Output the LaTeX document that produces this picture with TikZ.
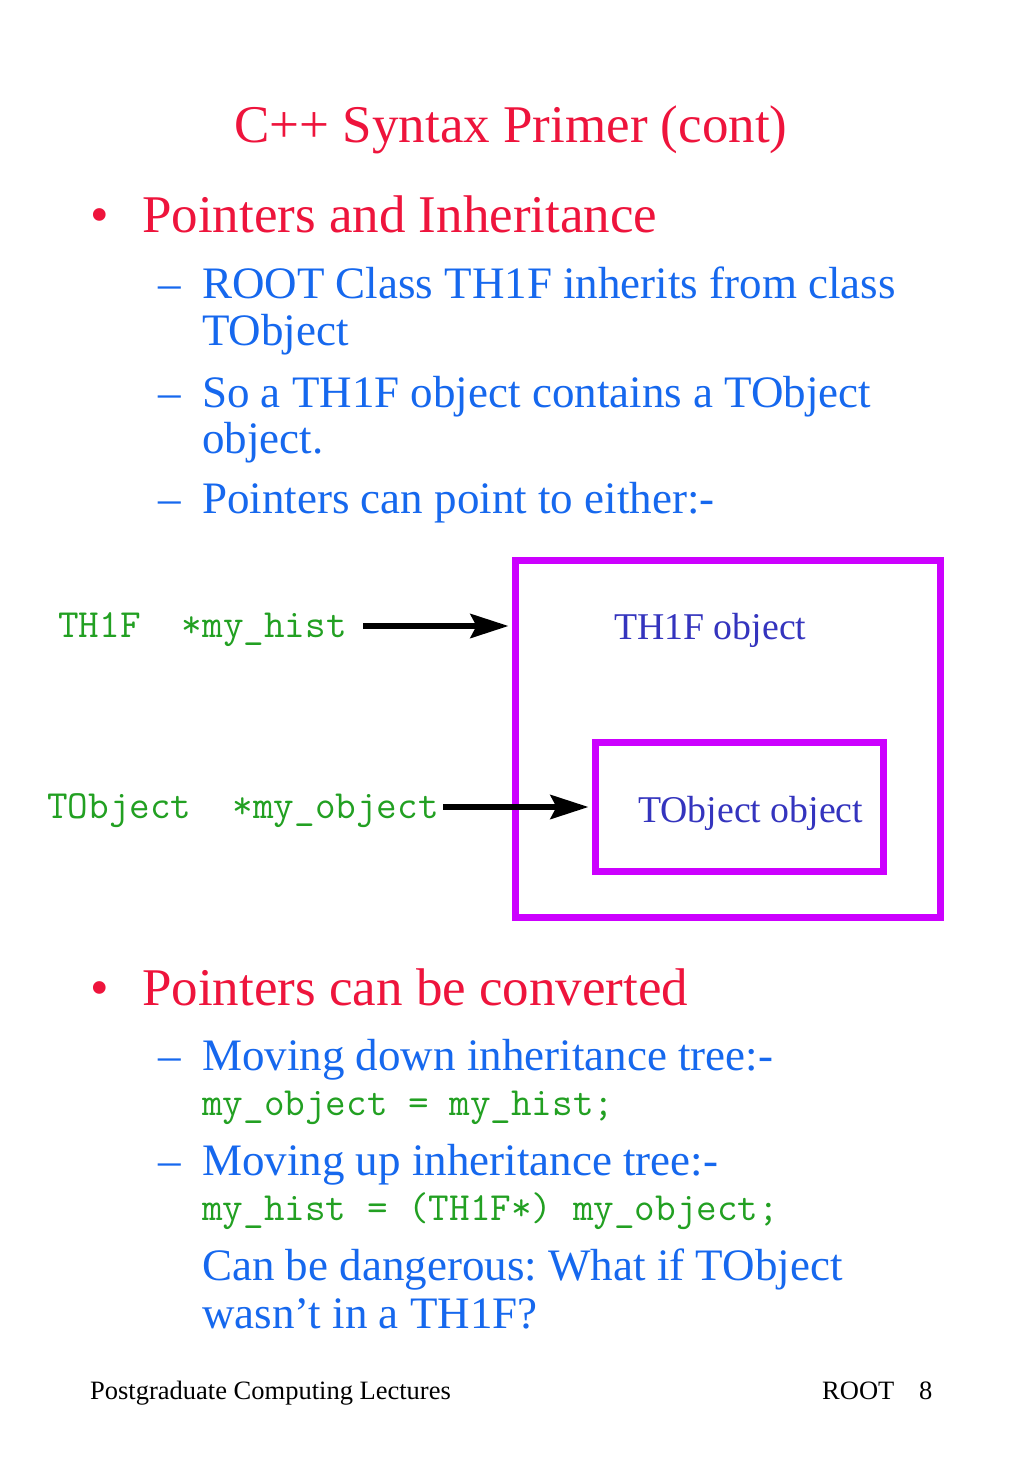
\documentclass[tikz,border=0pt]{standalone}
\usepackage{fontspec}
\setmainfont{Liberation Serif}
\usetikzlibrary{arrows.meta}
\frenchspacing
\definecolor{slidered}{RGB}{238,20,60}
\definecolor{slideblue}{RGB}{22,104,238}
\definecolor{codegreen}{RGB}{34,160,34}
\definecolor{boxtext}{RGB}{52,52,190}
\definecolor{boxline}{RGB}{204,0,255}
\tikzstyle{txt} = [inner sep=0pt, anchor=base west]
\tikzstyle{head} = [txt, text=slidered, font=\fontsize{53}{53}\selectfont]
\tikzstyle{sub} = [txt, text=slideblue, font=\fontsize{45}{45}\selectfont]
\tikzstyle{code} = [txt, text=codegreen, font=\ttfamily\fontsize{40}{40}\selectfont]
\tikzstyle{objlabel} = [txt, text=boxtext, font=\fontsize{37.8}{37.8}\selectfont]
\tikzstyle{foot} = [txt, font=\fontsize{26.5}{26.5}\selectfont]
\tikzstyle{objbox} = [draw=boxline, line width=7pt, inner sep=0pt]
\tikzstyle{ptr} = [line width=6pt, shorten >=3.5pt, -{Stealth[length=38pt, width=24pt, inset=6pt]}]

\begin{document}
\begin{tikzpicture}[x=1pt, y=-1pt]
			\useasboundingbox[fill=white] (0,0) rectangle (1024,1479);
			\node (title) [head, anchor=base] at (511,143) {C++ Syntax Primer (cont)};
			% first bullet
			\node (dot1) [head] at (90,233) {•};
			\node (pi) [head] at (142,233) {Pointers and Inheritance};
			\node (d1) [sub] at (158,298) {–};
			\node (s1) [sub] at (202,298) {ROOT Class TH1F inherits from class};
			\node (s1b) [sub] at (202,345) {TObject};
			\node (d2) [sub] at (158,407) {–};
			\node (s2) [sub] at (202,407) {So a TH1F object contains a TObject};
			\node (s2b) [sub] at (202,453) {object.};
			\node (d3) [sub] at (158,513) {–};
			\node (s3) [sub] at (202,513) {Pointers can point to either:-};
			% the two objects
			\node (outer) [objbox, minimum width=425pt, minimum height=357pt] at (728,739) {};
			\node (inner) [objbox, minimum width=288pt, minimum height=129pt] at (739.5,807) {};
			\node (th1f) [objlabel] at (614,639) {TH1F object};
			\node (tobj) [objlabel] at (638,822) {TObject object};
			\node (hist) [code] at (58,637) {TH1F~~*my\_hist};
			\node (obj) [code] at (47,818) {TObject~~*my\_object};
			\coordinate (histtail) at (363,626);
			\coordinate (objtail) at (443,807);
			\draw[ptr] (histtail) -- (histtail -| outer.west);
			\draw[ptr] (objtail) -- (objtail -| inner.west);
			% second bullet
			\node (dot2) [head] at (90,1005) {•};
			\node (pc) [head] at (142,1005) {Pointers can be converted};
			\node (d4) [sub] at (158,1070) {–};
			\node (s4) [sub] at (202,1070) {Moving down inheritance tree:-};
			\node (c4) [code] at (202,1115) {my\_object = my\_hist;};
			\node (d5) [sub] at (158,1175) {–};
			\node (s5) [sub] at (202,1175) {Moving up inheritance tree:-};
			\node (c5) [code] at (202,1220) {my\_hist = (TH1F*) my\_object;};
			\node (s6) [sub] at (202,1280) {Can be dangerous: What if TObject};
			\node (s6b) [sub] at (202,1328) {wasn't in a TH1F?};
			% footer
			\node (lect) [foot] at (90,1399) {Postgraduate Computing Lectures};
			\node (root) [foot] at (822,1399) {ROOT};
			\node (page) [foot] at (919,1399) {8};
		\end{tikzpicture}
\end{document}
